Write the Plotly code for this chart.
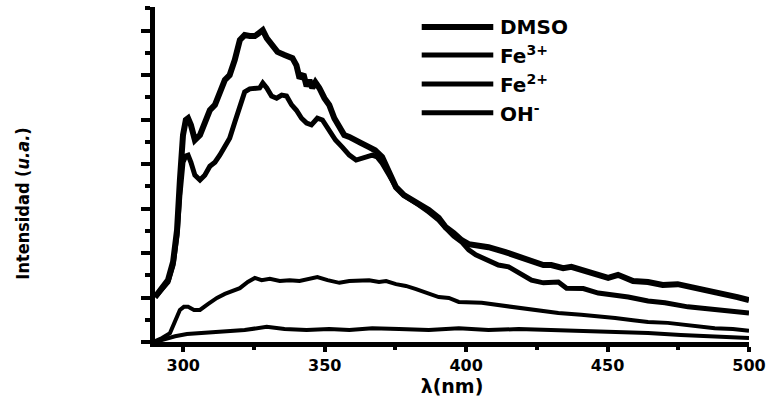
import plotly.graph_objects as go

# ---- data (wavelength in nm, intensity in arbitrary units) ----
dmso_x = [290.0, 292.5, 294.6, 296.4, 297.8, 298.8, 299.9, 300.9, 301.7, 302.7, 304.1, 305.9, 307.6,
          309.4, 311.2, 312.9, 314.7, 316.4, 318.2, 320.0, 321.7, 323.5, 325.3, 326.3, 328.1, 329.5,
          331.2, 333.3, 335.8, 338.6, 340.0, 341.1, 342.5, 343.6, 344.6, 345.6, 346.7, 348.1, 349.9,
          351.6, 353.4, 355.2, 356.9, 358.7, 360.5, 362.9, 365.7, 367.8, 370.3, 372.8, 375.2, 378.0,
          380.8, 383.3, 386.8, 390.3, 392.8, 395.6, 398.4, 400.9, 404.4, 407.9, 413.9, 418.5, 423.1,
          427.3, 430.1, 434.3, 437.2, 441.4, 446.7, 450.2, 453.7, 459.0, 464.3, 469.5, 474.8, 481.8,
          487.1, 492.4, 495.9, 500.0]
dmso_y = [1.01, 1.21, 1.39, 1.80, 2.52, 3.64, 4.65, 4.99, 5.03, 4.88, 4.54, 4.65, 4.94,
          5.21, 5.33, 5.62, 5.89, 6.00, 6.34, 6.79, 6.90, 6.88, 6.88, 6.92, 7.01, 6.83,
          6.67, 6.52, 6.45, 6.38, 6.22, 5.93, 6.02, 5.75, 5.89, 5.71, 5.84, 5.71, 5.48,
          5.33, 5.03, 4.81, 4.65, 4.61, 4.54, 4.47, 4.38, 4.31, 4.16, 3.82, 3.48, 3.30,
          3.19, 3.10, 2.97, 2.79, 2.58, 2.45, 2.29, 2.20, 2.16, 2.13, 2.02, 1.93, 1.84,
          1.73, 1.73, 1.66, 1.69, 1.62, 1.52, 1.44, 1.51, 1.37, 1.35, 1.28, 1.30, 1.21,
          1.12, 1.06, 1.01, 0.94]

fe3_x = [290.0, 292.5, 294.6, 296.4, 297.8, 298.8, 299.9, 300.9, 301.7, 302.7, 304.1, 305.9, 307.6,
         309.4, 311.2, 312.9, 314.7, 316.4, 318.2, 320.0, 321.7, 323.5, 325.3, 327.0, 328.1, 329.5,
         331.2, 333.0, 334.8, 336.5, 338.3, 340.0, 341.8, 343.6, 345.3, 347.4, 349.2, 351.6, 353.8,
         356.2, 358.7, 361.1, 364.0, 366.8, 368.5, 370.3, 372.8, 375.2, 378.0, 380.8, 383.3, 386.8,
         390.3, 392.8, 395.6, 398.4, 400.9, 403.4, 407.9, 411.4, 415.0, 418.5, 423.1, 427.3, 432.6,
         435.5, 441.4, 446.7, 452.7, 457.3, 464.3, 470.3, 478.4, 487.9, 494.3, 500.0]
fe3_y = [1.01, 1.19, 1.35, 1.73, 2.40, 3.30, 4.04, 4.18, 4.20, 4.04, 3.75, 3.64, 3.75,
         3.95, 4.04, 4.20, 4.38, 4.58, 4.94, 5.26, 5.62, 5.69, 5.69, 5.71, 5.82, 5.71,
         5.53, 5.48, 5.55, 5.53, 5.33, 5.21, 5.03, 4.92, 4.88, 5.03, 4.99, 4.76, 4.54,
         4.38, 4.20, 4.09, 4.16, 4.20, 4.16, 4.02, 3.75, 3.48, 3.30, 3.19, 3.08, 2.92,
         2.74, 2.56, 2.38, 2.25, 2.07, 1.96, 1.84, 1.73, 1.69, 1.57, 1.39, 1.33, 1.35,
         1.21, 1.20, 1.10, 1.06, 1.01, 0.92, 0.88, 0.79, 0.72, 0.67, 0.65]

fe2_x = [290.0, 292.5, 295.3, 297.1, 298.8, 300.2, 301.7, 303.8, 305.9, 308.7, 311.9, 314.7, 317.2,
         320.0, 322.8, 325.3, 327.7, 330.6, 334.1, 337.6, 341.1, 344.0, 347.4, 351.0, 355.2, 358.7,
         362.2, 365.7, 369.2, 371.7, 375.2, 378.7, 382.3, 385.8, 390.3, 393.9, 397.4, 405.5, 411.4,
         417.4, 425.5, 432.6, 440.7, 446.7, 452.7, 459.0, 464.3, 471.3, 478.4, 483.6, 487.9, 494.3,
         500.0]
fe2_y = [0.02, 0.09, 0.20, 0.45, 0.72, 0.79, 0.79, 0.72, 0.72, 0.85, 0.99, 1.08, 1.15,
         1.21, 1.35, 1.44, 1.39, 1.42, 1.37, 1.39, 1.37, 1.42, 1.46, 1.39, 1.33, 1.37,
         1.39, 1.39, 1.35, 1.37, 1.30, 1.26, 1.19, 1.12, 1.01, 0.99, 0.90, 0.88, 0.83,
         0.79, 0.72, 0.65, 0.61, 0.58, 0.54, 0.49, 0.45, 0.43, 0.38, 0.34, 0.31, 0.29,
         0.25]

oh_x = [290.0, 293.5, 297.1, 301.3, 305.9, 314.0, 321.7, 329.5, 335.8, 343.6, 351.6, 358.7, 366.8,
        376.3, 386.8, 397.4, 407.9, 418.5, 429.1, 440.7, 452.7, 464.3, 475.9, 487.1, 500.0]
oh_y = [0.00, 0.07, 0.13, 0.18, 0.20, 0.22, 0.27, 0.34, 0.29, 0.27, 0.29, 0.27, 0.31,
        0.29, 0.27, 0.31, 0.27, 0.29, 0.27, 0.25, 0.22, 0.20, 0.16, 0.13, 0.09]

series_names = ["DMSO", "Fe<sup>3+</sup>", "Fe<sup>2+</sup>", "OH<sup>-</sup>"]
series_x = [dmso_x, fe3_x, fe2_x, oh_x]
series_y = [dmso_y, fe3_y, fe2_y, oh_y]
line_widths = [6, 5, 4, 4]

x_ticks = [300, 350, 400, 450, 500]
x_title = "λ(nm)"
y_title = "Intensidad (<i>u.a.</i>)"

fig = go.Figure()
for nm, xs, ys, w in zip(series_names, series_x, series_y, line_widths):
    fig.add_trace(go.Scatter(x=xs, y=ys, mode="lines", name=nm,
                             line=dict(color="black", width=w), showlegend=False))

# manual legend (long line samples like the original)
leg_y = [0.940, 0.857, 0.770, 0.684]
leg_w = [6, 5, 5, 5]
for nm, yy, w in zip(series_names, leg_y, leg_w):
    fig.add_shape(type="line", xref="paper", yref="paper", x0=0.449, x1=0.5695, y0=yy, y1=yy,
                  line=dict(color="black", width=w))
    fig.add_annotation(xref="paper", yref="paper", x=0.578, y=yy, text=nm, showarrow=False,
                       xanchor="left", yanchor="middle",
                       font=dict(family="DejaVu Sans", size=20, color="black", weight="bold"))

fig.add_annotation(xref="paper", yref="paper", x=-0.2228, y=0.412, text=y_title, showarrow=False,
                   textangle=-90, xanchor="center", yanchor="middle",
                   font=dict(family="Liberation Sans Narrow, DejaVu Sans Condensed, Liberation Sans",
                             size=18, color="black", weight="bold"))

fig.update_layout(
    width=773, height=402,
    margin=dict(l=155, r=21, t=7, b=60),
    paper_bgcolor="white", plot_bgcolor="white",
    xaxis=dict(range=[290, 500], tickvals=x_ticks, ticks="outside", ticklen=5, tickwidth=4,
               tickcolor="black", showline=True, linewidth=5, linecolor="black",
               showgrid=False, zeroline=False,
               minor=dict(dtick=25, tick0=300, ticks="outside", ticklen=3, tickwidth=4, tickcolor="black"),
               tickfont=dict(family="DejaVu Sans", size=16, color="black", weight="bold"),
               title=dict(text=x_title, standoff=6,
                          font=dict(family="DejaVu Sans", size=19, color="black", weight="bold"))),
    yaxis=dict(range=[0, 7.53], dtick=1, tick0=0, ticks="outside", ticklen=9, tickwidth=4,
               tickcolor="black", showline=True, linewidth=5, linecolor="black",
               showticklabels=False, showgrid=False, zeroline=False,
               minor=dict(dtick=0.5, tick0=0, ticks="outside", ticklen=5, tickwidth=4, tickcolor="black")),
)

fig.write_html("out.html")
